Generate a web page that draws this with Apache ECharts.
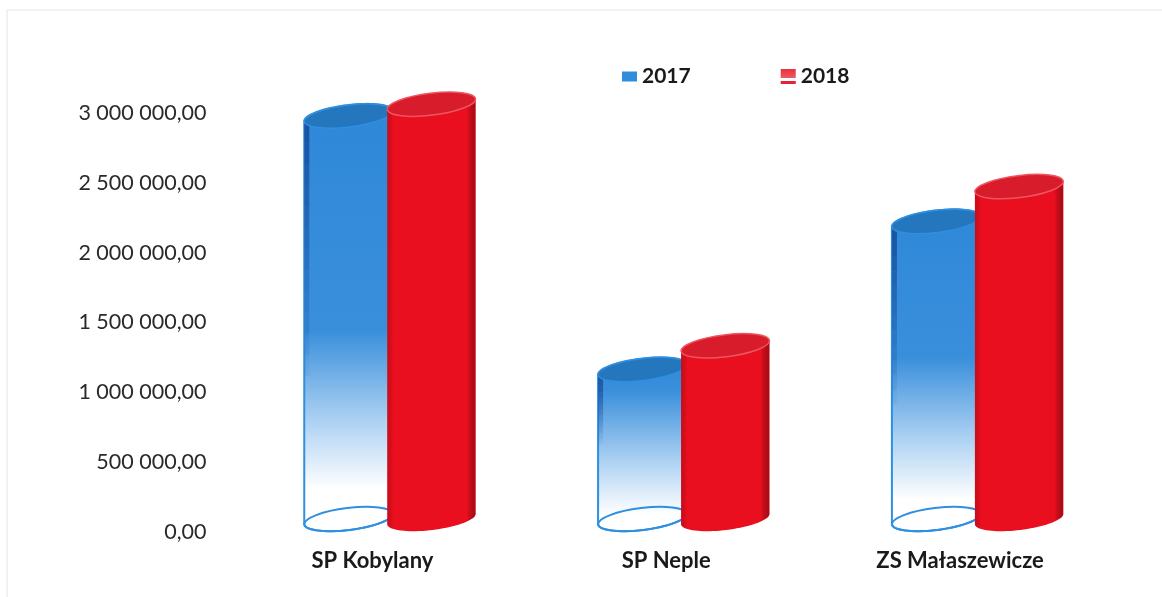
<!DOCTYPE html>
<html>
<head>
<meta charset="utf-8">
<title>Chart</title>
<style>html,body{margin:0;padding:0;background:#fff}#main{width:1162px;height:597px}</style>
<script src="https://cdn.jsdelivr.net/npm/echarts@6/dist/echarts.min.js"></script>
</head>
<body>
<div id="main"></div>
<script>
var categories = ['SP Kobylany', 'SP Neple', 'ZS Małaszewicze'];
var values2017 = [2885000, 1070000, 2130000];
var values2018 = [2970000, 1240000, 2380000];

// the picture's fake 3D: cylinders sit up and to the right of the axis position
var DEPTH_X = 17, DEPTH_Y = -13;
var RX = 44.5, RY = 11, TILT = -7 * Math.PI / 180;

function ellipsePoint(cx, cy, t) {
	var x = RX * Math.cos(t), y = RY * Math.sin(t);
	return [cx + x * Math.cos(TILT) - y * Math.sin(TILT), cy + x * Math.sin(TILT) + y * Math.cos(TILT)];
}

function bodyPoints(cx, topY, baseY) {
	var pts = [], i;
	// upper half of the top rim, then lower half of the base
	for (i = 0; i <= 40; i++) pts.push(ellipsePoint(cx, topY, Math.PI + Math.PI * i / 40));
	for (i = 0; i <= 40; i++) pts.push(ellipsePoint(cx, baseY, Math.PI * i / 40));
	return pts;
}

function ellipseShape(cx, cy) {
	return { type: 'ellipse', shape: { cx: 0, cy: 0, rx: RX, ry: RY }, x: cx, y: cy, rotation: -TILT };
}

function sideShade(left, right) {
	return {
		type: 'linear', x: 0, y: 0, x2: 1, y2: 0,
		colorStops: [
			{ offset: 0, color: left },
			{ offset: 0.07, color: 'rgba(0,0,0,0)' },
			{ offset: 0.9, color: 'rgba(0,0,0,0)' },
			{ offset: 1, color: right }
		]
	};
}

function renderBlue(params, api) {
	var top = api.coord([api.value(0), api.value(1)]);
	var base = api.coord([api.value(0), 0]);
	var cx = top[0] + DEPTH_X - 41, topY = top[1] + DEPTH_Y, baseY = base[1] + DEPTH_Y;
	var h = baseY - topY;
	var solidEnd = 1 - (80 + 0.27 * h) / h;
	var fade = {
		type: 'linear', x: 0, y: 0, x2: 0, y2: 1,
		colorStops: [
			{ offset: 0, color: '#2e88d8' },
			{ offset: solidEnd, color: '#3a8fdb' },
			{ offset: solidEnd + (0.9 - solidEnd) * 0.55, color: '#a9cff2' },
			{ offset: 0.9, color: '#ffffff' },
			{ offset: 1, color: '#ffffff' }
		]
	};
	var children = [
		{ type: 'polygon', shape: { points: bodyPoints(cx, topY, baseY) }, style: { fill: fade, stroke: '#2f8fe0', lineWidth: 2 } }
	];
	// dark left edge that dies out on the way down
	var steps = 12, shadeH = solidEnd * h + 40;
	for (var i = 0; i < steps; i++) {
		var alpha = 0.6 * (1 - i / steps);
		children.push({
			type: 'polygon',
			shape: { points: [
				ellipsePoint(cx, topY + shadeH * i / steps, Math.PI),
				ellipsePoint(cx + 5, topY + shadeH * i / steps, Math.PI),
				ellipsePoint(cx + 5, topY + shadeH * (i + 1) / steps, Math.PI),
				ellipsePoint(cx, topY + shadeH * (i + 1) / steps, Math.PI)
			] },
			style: { fill: 'rgba(10,50,130,' + alpha + ')' }
		});
	}
	var bottom = ellipseShape(cx, baseY);
	bottom.style = { fill: 'rgba(0,0,0,0)', stroke: '#2f8fe0', lineWidth: 2 };
	var rim = ellipseShape(cx, topY);
	rim.style = { fill: '#2476bd', stroke: '#2f8fe0', lineWidth: 1.5 };
	children.push(bottom, rim);
	return { type: 'group', children: children };
}

function renderRed(params, api) {
	var top = api.coord([api.value(0), api.value(1)]);
	var base = api.coord([api.value(0), 0]);
	var cx = top[0] + DEPTH_X + 42, topY = top[1] + DEPTH_Y, baseY = base[1] + DEPTH_Y;
	var pts = bodyPoints(cx, topY, baseY);
	var rim = ellipseShape(cx, topY);
	rim.style = { fill: '#d81c2c', stroke: '#ee5560', lineWidth: 1.5 };
	return {
		type: 'group',
		children: [
			{ type: 'polygon', shape: { points: pts }, style: { fill: '#ea0f1e' } },
			{ type: 'polygon', shape: { points: pts }, style: { fill: sideShade('rgba(110,5,15,0.25)', 'rgba(110,5,15,0.5)') } },
			rim
		]
	};
}

function formatTick(v) {
	return String(v).replace(/\B(?=(\d{3})+$)/g, ' ') + ',00';
}

var myChart = echarts.init(document.getElementById('main'));
var option = {
	backgroundColor: '#ffffff',
	animation: false,
	textStyle: { fontFamily: 'Lato' },
	graphic: [
		{ type: 'line', shape: { x1: 7, y1: 10, x2: 1162, y2: 10 }, style: { stroke: '#e4e4e4', lineWidth: 1 } },
		{ type: 'line', shape: { x1: 7, y1: 10, x2: 7, y2: 597 }, style: { stroke: '#e4e4e4', lineWidth: 1 } }
	],
	legend: {
		left: 617,
		top: 61,
		itemWidth: 15,
		itemHeight: 15,
		itemGap: 90,
		textStyle: { fontFamily: 'Lato', fontSize: 21, fontWeight: 'bold', color: '#1a1a1a' },
		data: [
			{ name: '2017', icon: 'path://M0,-2.5L0,-2.5M0,0H15V10H0ZM15,12.5L15,12.5' },
			{ name: '2018', icon: 'rect' }
		]
	},
	grid: { left: 225.5, right: 55, top: 113, bottom: 65 },
	xAxis: {
		type: 'category',
		data: categories,
		axisLine: { show: false },
		axisTick: { show: false },
		axisLabel: { fontFamily: 'Lato', fontSize: 22, fontWeight: 'bold', color: '#1a1a1a', margin: 18 }
	},
	yAxis: {
		type: 'value',
		min: 0,
		max: 3000000,
		interval: 500000,
		axisLine: { show: false },
		axisTick: { show: false },
		splitLine: { show: false },
		axisLabel: { fontFamily: 'Lato', fontSize: 21.5, color: '#2a2a2a', margin: 19, formatter: formatTick }
	},
	series: [
		{
			name: '2017',
			type: 'custom',
			renderItem: renderBlue,
			itemStyle: { color: '#2e8edb' },
			encode: { x: 0, y: 1 },
			data: values2017.map(function(v, i) { return [i, v]; })
		},
		{
			name: '2018',
			type: 'custom',
			renderItem: renderRed,
			itemStyle: {
				color: {
					type: 'linear', x: 0, y: 0, x2: 0, y2: 1,
					colorStops: [
						{ offset: 0, color: '#e8303f' },
						{ offset: 0.6, color: '#ec5a64' },
						{ offset: 0.61, color: '#ffffff' },
						{ offset: 0.82, color: '#ffffff' },
						{ offset: 0.83, color: '#e8203a' },
						{ offset: 1, color: '#e8203a' }
					]
				}
			},
			encode: { x: 0, y: 1 },
			data: values2018.map(function(v, i) { return [i, v]; })
		}
	]
};
myChart.setOption(option);
</script>
</body>
</html>
